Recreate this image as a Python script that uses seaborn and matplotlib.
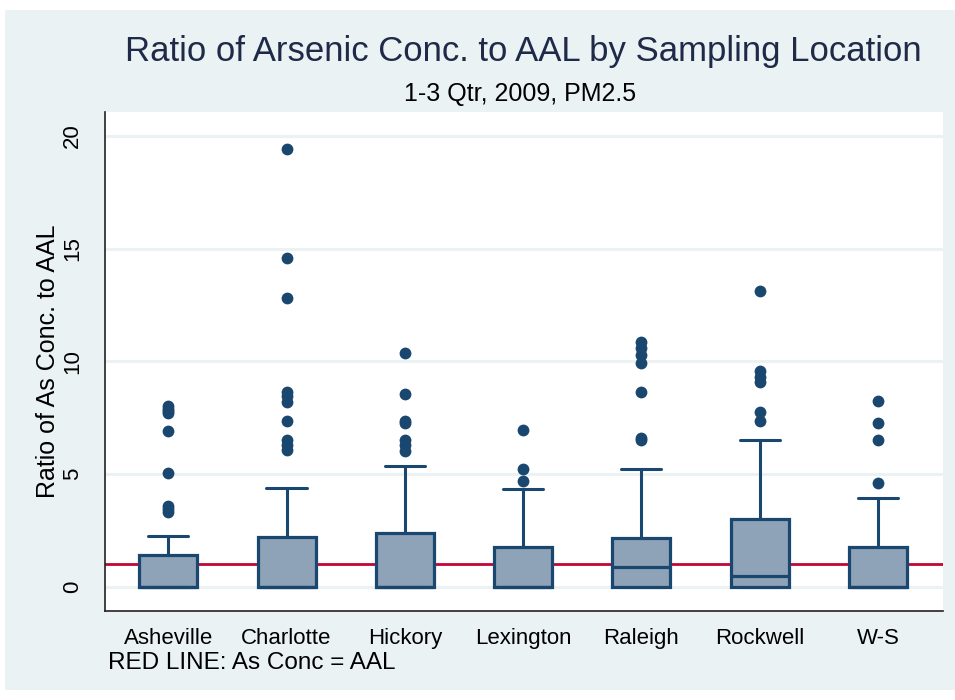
import matplotlib
matplotlib.use("Agg")
import matplotlib.pyplot as plt
from matplotlib.patches import Rectangle
import seaborn as sns
import pandas as pd

# Sampling locations and box-plot summaries of As concentration / AAL
locations = ["Asheville", "Charlotte", "Hickory", "Lexington", "Raleigh", "Rockwell", "W-S"]
q1 = [0.0, 0.0, 0.0, 0.0, 0.0, 0.0, 0.0]
median = [0.0, 0.0, 0.0, 0.0, 0.89, 0.47, 0.0]
q3 = [1.41, 2.19, 2.40, 1.75, 2.18, 2.99, 1.75]
whisker_low = [0.0, 0.0, 0.0, 0.0, 0.0, 0.0, 0.0]
whisker_high = [2.25, 4.38, 5.36, 4.32, 5.24, 6.51, 3.95]

# Outside values per location
outliers_asheville = [3.3, 3.45, 3.6, 5.05, 6.92, 7.7, 7.8, 7.9, 8.0]
outliers_charlotte = [6.05, 6.3, 6.5, 7.37, 8.2, 8.45, 8.66, 12.83, 14.6, 19.41]
outliers_hickory = [6.04, 6.3, 6.5, 7.25, 7.37, 8.55, 10.39]
outliers_lexington = [4.70, 5.24, 6.96]
outliers_raleigh = [6.5, 6.6, 8.66, 9.95, 10.3, 10.6, 10.85]
outliers_rockwell = [7.37, 7.75, 9.1, 9.3, 9.59, 13.12]
outliers_ws = [4.59, 6.51, 7.25, 8.24]

aal_ratio = 1.0
yticks = [0, 5, 10, 15, 20]

NAVY = "#1A476F"
FILL = "#8EA3B7"
RED = "#C10534"
BG = "#EAF2F3"

sns.set_theme(style="white")
plt.rcParams["font.family"] = ["Liberation Sans", "DejaVu Sans"]
plt.rcParams["text.color"] = "black"
plt.rcParams["axes.labelcolor"] = "black"
plt.rcParams["xtick.color"] = "black"
plt.rcParams["ytick.color"] = "black"

fig = plt.figure(figsize=(9.55, 7.0), dpi=100, facecolor="white")
fig.patches.append(Rectangle((5 / 955, 10 / 700), 950 / 955, 680 / 700,
                             transform=fig.transFigure, facecolor=BG,
                             edgecolor="none", zorder=-10))
ax = fig.add_axes([105 / 955, 1 - 611 / 700, 838 / 955, 499 / 700])
ax.set_zorder(1)
ax.set_facecolor("white")

positions = list(range(len(locations)))
stats = []
for i, name in enumerate(locations):
    stats.append(dict(label=name, q1=q1[i], med=median[i], q3=q3[i],
                      whislo=whisker_low[i], whishi=whisker_high[i], fliers=[]))

ax.axhline(aal_ratio, color=RED, lw=2.0, zorder=1)
ax.bxp(stats, positions=positions, widths=0.49, capwidths=0.34,
       patch_artist=True, showfliers=False, manage_ticks=False,
       boxprops=dict(facecolor=FILL, edgecolor=NAVY, linewidth=2.3),
       medianprops=dict(color=NAVY, linewidth=2.3),
       whiskerprops=dict(color=NAVY, linewidth=2.2),
       capprops=dict(color=NAVY, linewidth=2.2))
for artist in ax.patches + ax.lines[1:]:
    artist.set_zorder(3)

all_out = [outliers_asheville, outliers_charlotte, outliers_hickory,
           outliers_lexington, outliers_raleigh, outliers_rockwell, outliers_ws]
out_df = pd.DataFrame({
    "location": [loc for loc, vals in zip(locations, all_out) for _ in vals],
    "ratio": [v for vals in all_out for v in vals],
})
sns.stripplot(data=out_df, x="location", y="ratio", order=locations,
              jitter=False, color=NAVY, size=8.5, linewidth=0, ax=ax, zorder=4)

ax.set_xlim(-0.535, 6.55)
ax.set_ylim(-1.08, 21.07)
ax.set_yticks(yticks)
ax.set_yticklabels([str(t) for t in yticks], rotation=90, va="center", fontsize=16)
ax.yaxis.grid(True, color=BG, lw=2.2, zorder=0)
ax.set_axisbelow(True)
ax.tick_params(axis="y", direction="out", length=7, width=1.2, color="#222222", pad=9)
ax.tick_params(axis="x", length=0, pad=12, labelsize=16)
ax.set_xticks(positions)
ax.set_xticklabels(locations)
ax.set_xlabel("")
ax.set_ylabel("Ratio of As Conc. to AAL", fontsize=18, labelpad=1)
for side in ["top", "right"]:
    ax.spines[side].set_visible(False)
for side in ["left", "bottom"]:
    ax.spines[side].set_color("#222222")
    ax.spines[side].set_linewidth(1.2)

fig.text(0.548, 1 - 52 / 700, "Ratio of Arsenic Conc. to AAL by Sampling Location",
         ha="center", va="center", fontsize=25, color="#1E2A48")
fig.text(0.545, 1 - 94 / 700, "1-3 Qtr, 2009, PM2.5", ha="center", va="center",
         fontsize=18, color="black")
fig.text(108 / 955, 1 - 663 / 700, "RED LINE: As Conc = AAL", ha="left", va="center",
         fontsize=17.5, color="black")

fig.savefig("out.png", dpi=100, facecolor="white")
